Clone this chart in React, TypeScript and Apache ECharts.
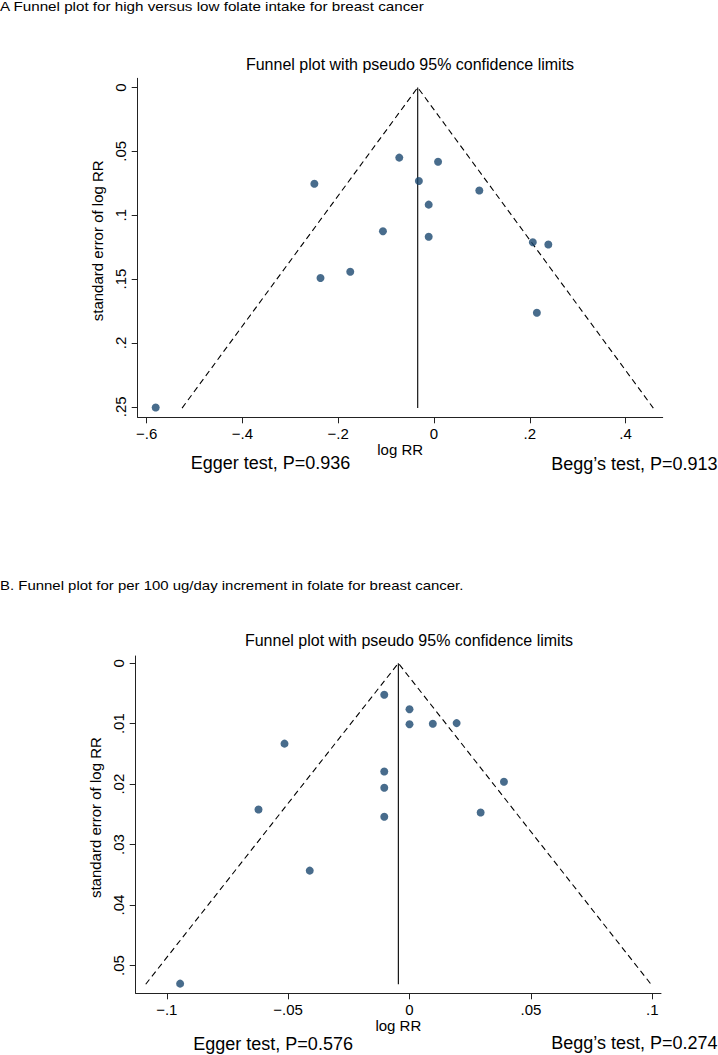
import React, { useEffect, useRef } from "react";
import * as echarts from "echarts";

const FONT = '"Liberation Sans", Arial, Helvetica, sans-serif';
const NAVY = "#1A476F";

// Panel A: high vs low folate intake
const topLogRR = [-0.0725, 0.0085, -0.2498, -0.0315, 0.0946, -0.0111, -0.1066, -0.0111, 0.2063, 0.2387, -0.1748, -0.237, 0.2148, -0.581];
const topSE = [0.0549, 0.0581, 0.0753, 0.0732, 0.0807, 0.0917, 0.1125, 0.1169, 0.1211, 0.1229, 0.1443, 0.1492, 0.1763, 0.2505];
const topPooled = -0.034;
const topSeMax = 0.251;
const topXTicks = [-0.6, -0.4, -0.2, 0, 0.2, 0.4];
const topYTicks = [0, 0.05, 0.1, 0.15, 0.2, 0.25];

// Panel B: per 100 ug/day increment
const botLogRR = [-0.0104, 0.0, 0.0, 0.0096, 0.0194, -0.0515, -0.0104, 0.0389, -0.0104, -0.0622, 0.0293, -0.0104, -0.0411, -0.0945];
const botSE = [0.0052, 0.0076, 0.0101, 0.01, 0.0099, 0.0133, 0.0179, 0.0196, 0.0206, 0.0242, 0.0247, 0.0254, 0.0343, 0.053];
const botPooled = -0.0046;
const botSeMax = 0.0531;
const botXTicks = [-0.1, -0.05, 0, 0.05, 0.1];
const botYTicks = [0, 0.01, 0.02, 0.03, 0.04, 0.05];

const titleA = "A Funnel plot for high versus low folate intake for breast cancer";
const titleB = "B. Funnel plot for per 100 ug/day increment in folate for breast cancer.";
const subTitle = "Funnel plot with pseudo 95% confidence limits";
const topEgger = "Egger test, P=0.936";
const topBegg = "Begg\u2019s test, P=0.913";
const botEgger = "Egger test, P=0.576";
const botBegg = "Begg\u2019s test, P=0.274";

const fmt = (v: number) =>
  v === 0 ? "0" : (v < 0 ? "\u2212" : "") + String(Math.abs(v)).replace(/^0/, "");

const AX = "#222";

function makeX(gridIndex: number, min: number, max: number, ticks: number[]) {
  return {
    type: "value",
    gridIndex,
    min,
    max,
    axisLine: { show: true, onZero: false, lineStyle: { color: AX, width: 1 } },
    axisTick: { show: true, length: 6, customValues: ticks, lineStyle: { color: AX, width: 1 } },
    axisLabel: { customValues: ticks, formatter: fmt, margin: 9, fontSize: 15, color: "#000", fontFamily: FONT },
    splitLine: { show: false },
    name: "log RR",
    nameLocation: "middle",
    nameGap: 23,
    nameTextStyle: { fontSize: 15, color: "#000", fontFamily: FONT },
  };
}

function makeY(gridIndex: number, min: number, max: number, ticks: number[]) {
  return {
    type: "value",
    gridIndex,
    inverse: true,
    min,
    max,
    axisLine: { show: true, onZero: false, lineStyle: { color: AX, width: 1 } },
    axisTick: { show: true, length: 6, customValues: ticks, lineStyle: { color: AX, width: 1 } },
    axisLabel: { customValues: ticks, formatter: fmt, rotate: 90, margin: 10, fontSize: 15, color: "#000", fontFamily: FONT },
    splitLine: { show: false },
    name: "standard error of log RR",
    nameLocation: "middle",
    nameGap: 26,
    nameRotate: 90,
    nameTextStyle: { fontSize: 15, color: "#000", fontFamily: FONT, padding: [0, 0, 0, 14] },
  };
}

function funnelSeries(idx: number, pooled: number, seMax: number, xs: number[], ys: number[]) {
  const half = 1.96 * seMax;
  return [
    {
      type: "line",
      xAxisIndex: idx,
      yAxisIndex: idx,
      data: [
        [pooled - half, seMax],
        [pooled, 0],
        [pooled + half, seMax],
      ],
      symbol: "none",
      silent: true,
      lineStyle: { color: "#000", width: 1.1, type: [6, 4] },
      z: 2,
    },
    {
      type: "line",
      xAxisIndex: idx,
      yAxisIndex: idx,
      data: [
        [pooled, 0],
        [pooled, seMax],
      ],
      symbol: "none",
      silent: true,
      lineStyle: { color: "#000", width: 1.1 },
      z: 2,
    },
    {
      type: "scatter",
      xAxisIndex: idx,
      yAxisIndex: idx,
      data: xs.map((x, i) => [x, ys[i]]),
      symbol: "circle",
      symbolSize: 8,
      itemStyle: { color: NAVY },
      z: 3,
    },
  ];
}

function txt(text: string, x: number, y: number, size: number, align: string, scaleX = 1) {
  return {
    type: "text",
    x,
    y,
    scaleX,
    silent: true,
    style: {
      x: 0,
      y: 0,
      text,
      fill: "#000",
      font: `${size}px ${FONT}`,
      textAlign: align,
      textVerticalAlign: "middle",
    },
  };
}

export default function App() {
  const ref = useRef<HTMLDivElement>(null);
  useEffect(() => {
    if (!ref.current) return;
    const chart = echarts.init(ref.current, undefined, { renderer: "svg" });
    chart.setOption({
      animation: false,
      backgroundColor: "#fff",
      grid: [
        { left: 137.7, right: 55.3, top: 78.3, bottom: 637.7 },
        { left: 135.7, right: 57, top: 656, bottom: 61.7 },
      ],
      xAxis: [makeX(0, -0.6186, 0.4775, topXTicks), makeX(1, -0.1128, 0.1036, botXTicks)],
      yAxis: [makeY(0, -0.0072, 0.2582, topYTicks), makeY(1, -0.0012, 0.0546, botYTicks)],
      series: [
        ...funnelSeries(0, topPooled, topSeMax, topLogRR, topSE),
        ...funnelSeries(1, botPooled, botSeMax, botLogRR, botSE),
      ],
      graphic: [
        txt(titleA, 0, 6.5, 13, "left", 1.17),
        txt(subTitle, 410, 64.4, 16, "center"),
        txt(topEgger, 190.7, 463, 18, "left"),
        txt(topBegg, 717.5, 464, 18, "right"),
        txt(titleB, 0, 585.5, 13, "left", 1.15),
        txt(subTitle, 409, 640.4, 16, "center"),
        txt(botEgger, 193.3, 1044, 18, "left"),
        txt(botBegg, 717.5, 1043, 18, "right"),
      ],
    });
    return () => chart.dispose();
  }, []);
  return (
    <div
      ref={ref}
      style={{ position: "fixed", left: 0, top: 0, width: 718, height: 1055, background: "#fff" }}
    />
  );
}
